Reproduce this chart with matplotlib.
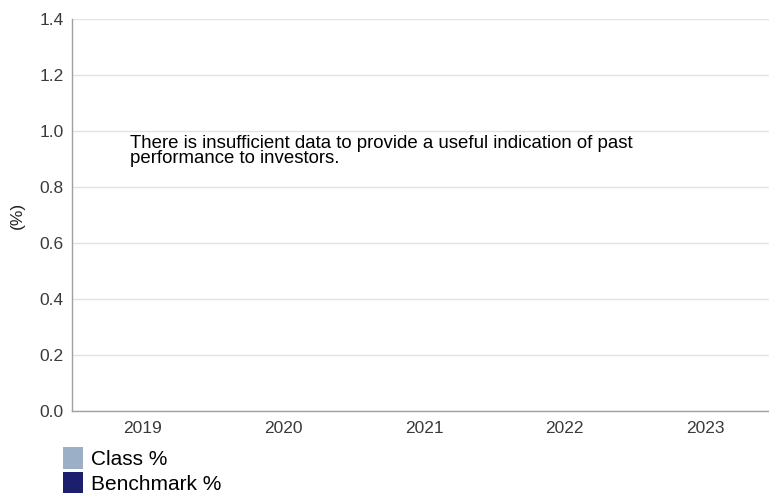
import matplotlib
matplotlib.use("Agg")
import matplotlib.pyplot as plt
from matplotlib.patches import Patch
import numpy as np

# ==================== Data ====================
years = ["2019", "2020", "2021", "2022", "2023"]
class_pct = []        # no data available
benchmark_pct = []    # no data available
y_ticks = [0.0, 0.2, 0.4, 0.6, 0.8, 1.0, 1.2, 1.4]
message = ("There is insufficient data to provide a useful indication of past\n"
           "performance to investors.")

CLASS_COLOR = "#9bb0c6"
BENCH_COLOR = "#1c1f6e"

plt.rcParams['font.family'] = ['Liberation Sans', 'DejaVu Sans']

W, H = 769, 493
fig = plt.figure(figsize=(W / 100, H / 100), dpi=100)
ax = fig.add_axes([72 / W, (H - 411) / H, (W - 72) / W, (411 - 19) / H])

x = np.arange(len(years))
ax.set_xlim(-0.5, len(years) - 0.55)
ax.set_ylim(0, 1.4)
ax.set_yticks(y_ticks)
ax.set_yticklabels([f"{v:.1f}" for v in y_ticks])
ax.set_xticks(x)
ax.set_xticklabels(years)
ax.tick_params(axis='both', length=0, labelsize=12.5, colors='#3a3a3a')
ax.tick_params(axis='x', pad=7)
ax.tick_params(axis='y', pad=6)

ax.grid(axis='y', color='#e3e3e3', linewidth=1)
ax.set_axisbelow(True)
for side in ['top', 'right']:
    ax.spines[side].set_visible(False)
for side in ['left', 'bottom']:
    ax.spines[side].set_color('#a0a0a0')
    ax.spines[side].set_linewidth(1)

# y label placed in figure coords so it is not clipped
fig.text(17 / W, (H - 215) / H, "(%)", rotation=90, fontsize=12.5,
         color='#222222', ha='center', va='center')

ax.text(130 / W, (H - 135) / H, message, transform=fig.transFigure,
        fontsize=13.4, color='black', va='top', ha='left', linespacing=0.85)

handles = [Patch(facecolor=CLASS_COLOR, edgecolor='none', label='Class %'),
           Patch(facecolor=BENCH_COLOR, edgecolor='none', label='Benchmark %')]
fig.legend(handles=handles, loc='upper left', bbox_to_anchor=(63 / W, (H - 447) / H),
           frameon=False, fontsize=15, handlelength=0.95, handleheight=1.25,
           handletextpad=0.4, labelspacing=0.15, borderpad=0, borderaxespad=0)

fig.savefig("out.png", dpi=100, facecolor='white')
